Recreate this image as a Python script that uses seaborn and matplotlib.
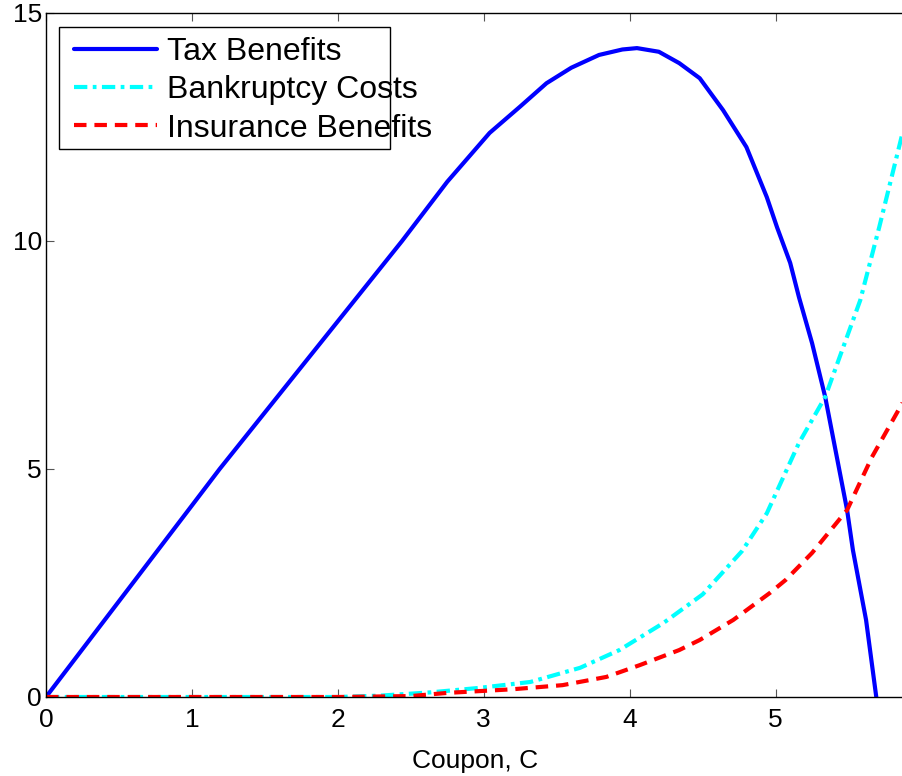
import numpy as np
import pandas as pd
import matplotlib
matplotlib.use("Agg")
import matplotlib.pyplot as plt
from matplotlib.patches import Rectangle
import seaborn as sns

# values
tax_x = [0, 0.25, 0.5, 0.75, 1.0, 1.19, 1.5, 1.75, 2.0, 2.29, 2.44, 2.75, 3.04, 3.25, 3.43,
         3.6, 3.79, 3.95, 4.05, 4.2, 4.34, 4.48, 4.64, 4.80, 4.94, 5.01, 5.10, 5.16, 5.25,
         5.34, 5.49, 5.53, 5.62, 5.69]
tax_y = [0, 1.05, 2.1, 3.15, 4.2, 5.0, 6.24, 7.24, 8.24, 9.4, 10.0, 11.3, 12.37, 12.95, 13.46,
         13.8, 14.08, 14.2, 14.23, 14.15, 13.9, 13.57, 12.87, 12.06, 10.96, 10.3, 9.52, 8.77, 7.76,
         6.58, 4.10, 3.22, 1.69, 0]

bankruptcy_x = [0, 1, 2, 2.29, 2.63, 2.97, 3.32, 3.66, 3.93, 4.23, 4.5, 4.77, 4.94, 5.16,
                5.34, 5.58, 5.71, 5.87]
bankruptcy_y = [0, 0, 0, 0.03, 0.1, 0.2, 0.33, 0.64, 1.03, 1.62, 2.25, 3.2, 4.03, 5.57,
                6.58, 8.7, 10.3, 12.37]

insurance_x = [0, 1, 2, 2.5, 2.75, 3.2, 3.54, 3.84, 4.07, 4.34, 4.48, 4.71, 4.96, 5.07,
               5.25, 5.49, 5.66, 5.87]
insurance_y = [0, 0, 0, 0.02, 0.09, 0.17, 0.26, 0.44, 0.70, 1.03, 1.25, 1.69, 2.28, 2.57,
               3.16, 4.10, 5.26, 6.45]

labels = ["Tax Benefits", "Bankruptcy Costs", "Insurance Benefits"]
x_ticks = [0, 1, 2, 3, 4, 5]
y_ticks = [0, 5, 10, 15]

sns.set_style("ticks")
plt.rcParams["font.family"] = ["Liberation Sans", "DejaVu Sans"]
plt.rcParams["text.color"] = "black"
plt.rcParams["axes.labelcolor"] = "black"

fig = plt.figure(figsize=(9.03, 7.76), dpi=100)
ax = fig.add_axes([46 / 903, 79 / 776, 858 / 903, 684 / 776])

sns.lineplot(x=tax_x, y=tax_y, ax=ax, color="#0000ff", lw=3, label=labels[0])
sns.lineplot(x=bankruptcy_x, y=bankruptcy_y, ax=ax, color="#00ffff", lw=3,
             label=labels[1], dashes=False)
sns.lineplot(x=insurance_x, y=insurance_y, ax=ax, color="#ff0000", lw=3,
             label=labels[2])

lines = ax.get_lines()
lines[1].set_dashes([3.2, 1.3, 0.9, 1.3])
lines[2].set_dashes([3.0, 1.9])

ax.set_xlim(0, 5.88)
ax.set_ylim(0, 15)
ax.set_xticks(x_ticks)
ax.set_yticks(y_ticks)
ax.set_xlabel("Coupon, C", fontsize=19, labelpad=12, color="black")
ax.set_ylabel("")

ax.tick_params(axis="both", direction="in", length=6, width=0.8, color="#555555",
               labelsize=19, labelcolor="black", top=True, right=False)
ax.tick_params(axis="x", pad=8)
ax.tick_params(axis="y", pad=3)
for side in ["left", "top", "bottom"]:
    ax.spines[side].set_linewidth(1.0)
    ax.spines[side].set_color("black")
ax.spines["right"].set_visible(False)

leg = ax.legend(loc="upper left", bbox_to_anchor=(0.033, 0.965), frameon=False,
                fontsize=23, handlelength=2.6, handletextpad=0.3, labelspacing=0.26,
                borderaxespad=0, borderpad=0)
for t in leg.get_texts():
    t.set_color("black")
for h in leg.get_lines():
    h.set_linewidth(3)
leg.get_lines()[1].set_dashes([3.2, 1.3, 0.9, 1.3])
leg.get_lines()[2].set_dashes([3.0, 1.9])

# MATLAB-style legend box (text runs past it in the original)
ax.add_patch(Rectangle((0.0152, 0.801), 0.3862, 0.1785, transform=ax.transAxes,
                       fill=False, edgecolor="black", lw=1.0, zorder=5, clip_on=False))

fig.savefig("out.png", dpi=100)
